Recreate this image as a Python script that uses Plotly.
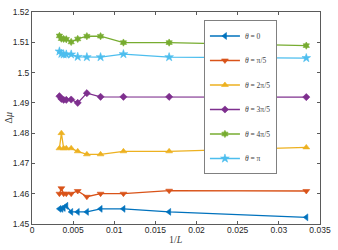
import plotly.graph_objects as go

L_values = [300, 280, 260, 240, 210, 180, 150, 120, 90, 60, 30]
inv_L = [1.0 / L for L in L_values]

theta_0 = [1.455, 1.455, 1.4553, 1.456, 1.454, 1.454, 1.454, 1.455, 1.455, 1.454, 1.4522]
theta_1 = [1.460, 1.4618, 1.460, 1.460, 1.460, 1.4609, 1.459, 1.460, 1.460, 1.461, 1.4609]
theta_2 = [1.475, 1.480, 1.475, 1.475, 1.475, 1.474, 1.473, 1.473, 1.474, 1.474, 1.4753]
theta_3 = [1.4922, 1.4913, 1.491, 1.491, 1.4911, 1.490, 1.4932, 1.492, 1.492, 1.492, 1.4919]
theta_4 = [1.5121, 1.5112, 1.5111, 1.511, 1.5101, 1.5111, 1.512, 1.512, 1.5099, 1.5099, 1.5089]
theta_5 = [1.507, 1.5062, 1.506, 1.506, 1.506, 1.5052, 1.5051, 1.5051, 1.5061, 1.5051, 1.5048]

series_names = ["<i>θ</i> = 0", "<i>θ</i> = π/5", "<i>θ</i> = 2π/5",
                "<i>θ</i> = 3π/5", "<i>θ</i> = 4π/5", "<i>θ</i> = π"]
series_values = [theta_0, theta_1, theta_2, theta_3, theta_4, theta_5]
colors = ["#0072BD", "#D95319", "#EDB120", "#7E2F8E", "#77AC30", "#4DBEEE"]
symbols = ["triangle-left", "triangle-down", "triangle-up", "diamond", "hexagram", "star"]
marker_sizes = [6, 6, 6, 5.5, 5.5, 6.5]

x_tickvals = [0, 0.005, 0.01, 0.015, 0.02, 0.025, 0.03, 0.035]
x_ticktext = ["0", "0.005", "0.01", "0.015", "0.02", "0.025", "0.03", "0.035"]
y_tickvals = [1.45, 1.46, 1.47, 1.48, 1.49, 1.50, 1.51, 1.52]
y_ticktext = ["1.45", "1.46", "1.47", "1.48", "1.49", "1.5", "1.51", "1.52"]

fig = go.Figure()
for i, (name, vals) in enumerate(zip(series_names, series_values)):
    fig.add_trace(go.Scatter(
        x=inv_L, y=vals, mode="lines+markers", name=name,
        legendgroup=f"g{i}",
        line=dict(color=colors[i], width=1.3),
        marker=dict(symbol=symbols[i], size=marker_sizes[i], color=colors[i],
                    line=dict(width=0.6, color=colors[i])),
    ))

axis_common = dict(
    showgrid=False, zeroline=False, showline=True, linecolor="#5a5a5a", linewidth=1,
    mirror="ticks", ticks="inside", ticklen=3, tickwidth=0.8, tickcolor="#5a5a5a",
    tickfont=dict(family="Liberation Sans, Arial, sans-serif", size=8.5, color="#262626"),
)

fig.update_xaxes(range=[0, 0.035], tickvals=x_tickvals, ticktext=x_ticktext,
                 ticklabelstandoff=-2, **axis_common)
fig.update_yaxes(range=[1.45, 1.52], tickvals=y_tickvals, ticktext=y_ticktext,
                 **axis_common)

title_font = dict(family="Liberation Serif, DejaVu Serif, serif", size=10, color="#404040")
fig.add_annotation(
    text="1/<i>L</i>", xref="paper", yref="paper", x=0.5, y=-0.074,
    xanchor="center", yanchor="middle", showarrow=False, font=title_font,
)
fig.add_annotation(
    text="Δ<i>μ</i>", xref="paper", yref="paper", x=-0.085, y=0.5,
    xanchor="center", yanchor="middle", showarrow=False, textangle=-90, font=title_font,
)

fig.update_layout(
    width=338, height=250,
    margin=dict(l=32, r=13, t=7, b=26),
    paper_bgcolor="white", plot_bgcolor="white",
    showlegend=True,
    legend=dict(
        x=0.597, y=0.96, xanchor="left", yanchor="top",
        bgcolor="white", bordercolor="#808080", borderwidth=1,
        font=dict(family="Liberation Serif, DejaVu Serif, serif", size=7.5, color="#404040"),
        tracegroupgap=5.5, itemwidth=30,
    ),
)

fig.write_html("out.html", config={"displayModeBar": False},
               post_script="document.body.style.margin='0';")
